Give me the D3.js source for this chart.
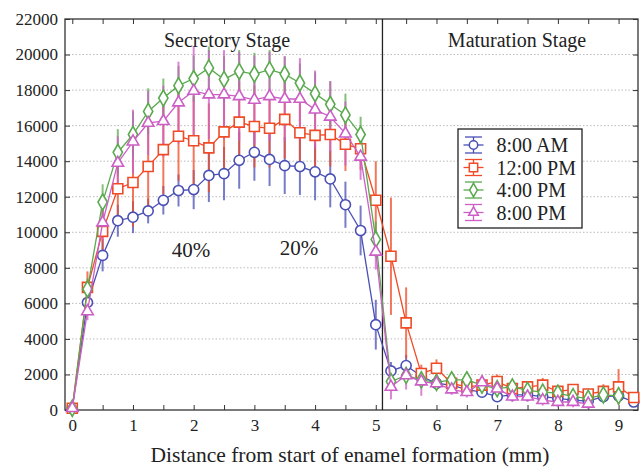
<!DOCTYPE html>
<html>
<head>
<meta charset="utf-8">
<script src="https://cdn.jsdelivr.net/npm/d3@7"></script>
<style>
  body { margin: 0; background: #fff; }
  svg text { font-family: "Liberation Serif", "DejaVu Serif", serif; fill: #222; }
  .axis path { display: none; }
  .axis line { stroke: #333; stroke-width: 1; }
  .axis text { font-size: 17px; }
</style>
</head>
<body>
<svg id="chart" width="641" height="468"></svg>
<script>
// distance from start of enamel formation (mm)
var dist = [0, 0.25, 0.5, 0.75, 1, 1.25, 1.5, 1.75, 2, 2.25, 2.5, 2.75, 3, 3.25, 3.5, 3.75, 4, 4.25, 4.5, 4.75, 5,
	5.25, 5.5, 5.75, 6, 6.25, 6.5, 6.75, 7, 7.25, 7.5, 7.75, 8, 8.25, 8.5, 8.75, 9, 9.25];

var am8 = [100, 6050, 8700, 10650, 10850, 11200, 11800, 12350, 12400, 13200, 13300, 14050, 14500, 14100, 13750, 13700, 13400, 13000, 11550, 10100, 4800,
	2200, 2500, 1900, 1500, 1400, 1150, 1000, 750, 850, 850, 750, 650, 550, 500, 750, 800, 450];
var am8Err = [0, 700, 900, 900, 900, 700, 800, 900, 1100, 1500, 1500, 1600, 1600, 1500, 1600, 1600, 1600, 1600, 1300, 1400, 1400,
	500, 600, 400, 300, 300, 300, 300, 300, 300, 300, 300, 300, 300, 300, 300, 300, 200];

var pm12 = [100, 6900, 10050, 12450, 12800, 13700, 14650, 15400, 15150, 14750, 15650, 16200, 15950, 15850, 16350, 15600, 15450, 15500, 14950, 14700, 11800,
	8650, 4900, 2050, 2350, 1500, 1300, 1400, 1600, 1200, 1300, 1400, 1050, 1150, 900, 1050, 1300, 700];
var pm12Err = [0, 900, 1500, 2000, 2500, 2500, 2500, 2500, 2500, 2500, 2200, 2300, 2300, 2200, 2200, 2200, 2000, 1800, 1500, 1200, 2200,
	3300, 2000, 500, 500, 300, 300, 400, 400, 300, 300, 400, 300, 300, 300, 400, 1000, 300];

var pm4 = [100, 6800, 11700, 14500, 15500, 16800, 17550, 18250, 18650, 19250, 18600, 19050, 18900, 19150, 18900, 18400, 17800, 17200, 16600, 15500, 9600,
	1600, 1950, 1700, 1550, 1700, 1700, 1400, 1200, 1300, 1100, 1000, 950, 750, 650, 850, 800, null];
var pm4Err = [0, 600, 1000, 1300, 1300, 1300, 1100, 1100, 1300, 1200, 1300, 1200, 1200, 1100, 1000, 1100, 1200, 1300, 1200, 1000, 1000,
	300, 300, 300, 300, 300, 300, 300, 300, 300, 300, 300, 300, 300, 300, 300, 300, null];

var pm8 = [100, 5550, 10550, 13900, 15100, 16150, 16250, 17300, 17950, 17750, 17750, 17650, 17450, 17650, 17500, 17500, 16900, 16500, 15550, 14250, 8900,
	1300, 1950, 1600, 1500, 1150, 1000, 1550, 1200, 750, 750, 550, 450, 450, 350, null, null, null];
var pm8Err = [0, 500, 1000, 1500, 1800, 1800, 2000, 2300, 2500, 2500, 2500, 2500, 2500, 2500, 2400, 2300, 2200, 2000, 1800, 1300, 1000,
	700, 800, 800, 300, 300, 300, 400, 300, 300, 300, 300, 300, 300, 300, null, null, null];

var labels = ["8:00 AM", "12:00 PM", "4:00 PM", "8:00 PM"];
var xTicks = [0, 0.5, 1, 1.5, 2, 2.5, 3, 3.5, 4, 4.5, 5, 5.5, 6, 6.5, 7, 7.5, 8, 8.5, 9];
var yTicks = [0, 2000, 4000, 6000, 8000, 10000, 12000, 14000, 16000, 18000, 20000, 22000];
var stageSplit = 5.11;

var series = [
	{ name: labels[0], vals: am8, err: am8Err, color: "#4a4fb5", symbol: d3.symbolCircle, size: 80 },
	{ name: labels[1], vals: pm12, err: pm12Err, color: "#f04a26", symbol: d3.symbolSquare, size: 100 },
	{ name: labels[2], vals: pm4, err: pm4Err, color: "#5aa94e", symbol: d3.symbolDiamond, size: 75 },
	{ name: labels[3], vals: pm8, err: pm8Err, color: "#cc5ec6", symbol: d3.symbolTriangle, size: 58 }
];

var pLeft = 65, pRight = 638, pTop = 19, pBottom = 410;

var x = d3.scaleLinear().domain([-0.12, 9.32]).range([pLeft, pRight]);
var y = d3.scaleLinear().domain([0, 22000]).range([pBottom, pTop]);

var svg = d3.select("#chart");

// dotted grid
svg.append("g").selectAll("line")
	.data(yTicks.slice(1, -1))
	.enter().append("line")
		.attr("x1", pLeft).attr("x2", pRight)
		.attr("y1", function(d){ return y(d); })
		.attr("y2", function(d){ return y(d); })
		.attr("stroke", "#bbb")
		.attr("stroke-width", 1)
		.attr("stroke-dasharray", "1.5,2");

// axes, ticks point inwards
svg.append("g").attr("class", "axis")
	.attr("transform", "translate(0," + pBottom + ")")
	.call(d3.axisBottom(x).tickValues(xTicks).tickSize(-5).tickPadding(9)
		.tickFormat(function(d){ return d % 1 === 0 ? d : ""; }));
svg.append("g").attr("class", "axis")
	.attr("transform", "translate(0," + pTop + ")")
	.call(d3.axisTop(x).tickValues(xTicks).tickSize(-5).tickFormat(""));
svg.append("g").attr("class", "axis")
	.attr("transform", "translate(" + pLeft + ",0)")
	.call(d3.axisLeft(y).tickValues(yTicks).tickSize(-5).tickPadding(7).tickFormat(d3.format("d")));
svg.append("g").attr("class", "axis")
	.attr("transform", "translate(" + pRight + ",0)")
	.call(d3.axisRight(y).tickValues(yTicks).tickSize(-5).tickFormat(""));

svg.append("rect")
	.attr("x", pLeft).attr("y", pTop)
	.attr("width", pRight - pLeft).attr("height", pBottom - pTop)
	.attr("fill", "none").attr("stroke", "#333").attr("stroke-width", 1.3);

svg.append("line")
	.attr("x1", x(stageSplit)).attr("x2", x(stageSplit))
	.attr("y1", pTop).attr("y2", pBottom)
	.attr("stroke", "#222").attr("stroke-width", 1.3);

var line = d3.line()
	.x(function(d){ return x(d.d); })
	.y(function(d){ return y(d.v); });

function pts(s) {
	return dist.map(function(d, i){ return { d: d, v: s.vals[i], e: s.err[i] }; })
		.filter(function(p){ return p.v !== null; });
}

// error bars under everything
series.forEach(function(s){
	svg.append("g").selectAll("line")
		.data(pts(s))
		.enter().append("line")
			.attr("x1", function(d){ return x(d.d); })
			.attr("x2", function(d){ return x(d.d); })
			.attr("y1", function(d){ return y(Math.max(0, d.v - d.e)); })
			.attr("y2", function(d){ return y(d.v + d.e); })
			.attr("stroke", s.color)
			.attr("stroke-opacity", 0.75)
			.attr("stroke-width", 2);
});

series.forEach(function(s){
	svg.append("path")
		.datum(pts(s))
		.attr("d", line)
		.attr("fill", "none")
		.attr("stroke", s.color)
		.attr("stroke-width", 1.3);

	svg.append("g").selectAll("path")
		.data(pts(s))
		.enter().append("path")
			.attr("transform", function(d){ return "translate(" + x(d.d) + "," + y(d.v) + ")"; })
			.attr("d", d3.symbol().type(s.symbol).size(s.size))
			.attr("fill", "#fff")
			.attr("stroke", s.color)
			.attr("stroke-width", 1.6);
});

// labels in the plot
svg.append("text").attr("x", 227).attr("y", 47).attr("text-anchor", "middle")
	.style("font-size", "20px").text("Secretory Stage");
svg.append("text").attr("x", 517).attr("y", 47).attr("text-anchor", "middle")
	.style("font-size", "20px").text("Maturation Stage");
svg.append("text").attr("x", 191).attr("y", 257).attr("text-anchor", "middle")
	.style("font-size", "21px").text("40%");
svg.append("text").attr("x", 299).attr("y", 255).attr("text-anchor", "middle")
	.style("font-size", "21px").text("20%");

svg.append("text").attr("x", 350).attr("y", 462).attr("text-anchor", "middle")
	.style("font-size", "21.5px").text("Distance from start of enamel formation (mm)");

// legend
var lg = svg.append("g").attr("transform", "translate(458,129)");
lg.append("rect").attr("width", 124).attr("height", 99)
	.attr("fill", "#fff").attr("stroke", "#222").attr("stroke-width", 1.3);

var item = lg.selectAll("g.item")
	.data(series)
	.enter().append("g")
		.attr("class", "item")
		.attr("transform", function(d, i){ return "translate(15.5," + (16 + i * 22.5) + ")"; });

item.append("line").attr("x1", -10).attr("x2", 10).attr("stroke", function(d){ return d.color; }).attr("stroke-width", 1.3);
item.append("line").attr("y1", -8).attr("y2", 8).attr("stroke", function(d){ return d.color; }).attr("stroke-width", 1.3);
item.append("line").attr("x1", -8.5).attr("x2", 8.5).attr("y1", -8).attr("y2", -8).attr("stroke", function(d){ return d.color; }).attr("stroke-width", 1.3);
item.append("line").attr("x1", -8.5).attr("x2", 8.5).attr("y1", 8).attr("y2", 8).attr("stroke", function(d){ return d.color; }).attr("stroke-width", 1.3);
item.append("path")
	.attr("d", function(d){ return d3.symbol().type(d.symbol).size(d.size * 0.7)(); })
	.attr("fill", "#fff")
	.attr("stroke", function(d){ return d.color; })
	.attr("stroke-width", 1.5);
item.append("text")
	.attr("x", 23).attr("y", 7)
	.style("font-size", "20px")
	.text(function(d){ return d.name; });
</script>
</body>
</html>
